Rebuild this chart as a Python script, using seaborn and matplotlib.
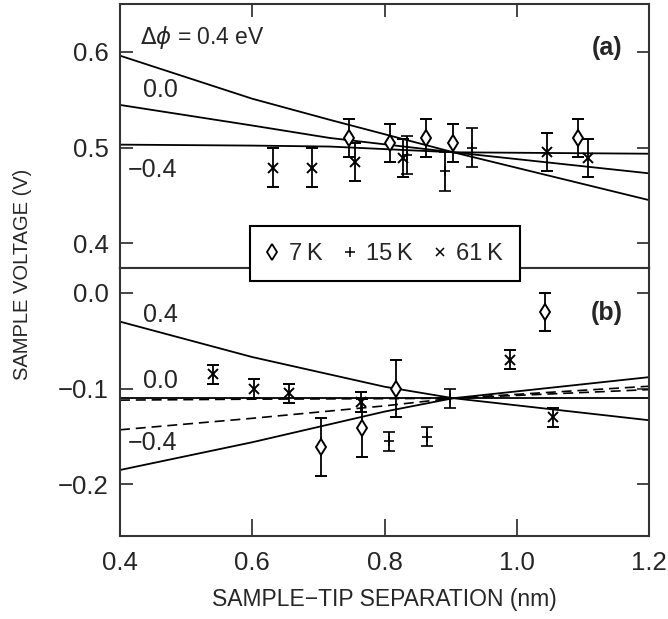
import matplotlib
matplotlib.use("Agg")
import matplotlib.pyplot as plt
from matplotlib.lines import Line2D
import seaborn as sns
import pandas as pd

# measured points, panel (a)
x_a_7k = [0.746, 0.808, 0.862, 0.904, 1.092]
y_a_7k = [0.510, 0.505, 0.510, 0.505, 0.510]
e_a_7k = [0.020, 0.020, 0.020, 0.020, 0.020]

x_a_15k = [0.834, 0.891, 0.932]
y_a_15k = [0.492, 0.475, 0.500]
e_a_15k = [0.020, 0.020, 0.020]

x_a_61k = [0.632, 0.691, 0.755, 0.828, 1.046, 1.108]
y_a_61k = [0.479, 0.479, 0.485, 0.489, 0.495, 0.489]
e_a_61k = [0.020, 0.020, 0.020, 0.020, 0.020, 0.020]

# measured points, panel (b)
x_b_7k = [0.704, 0.766, 0.817, 1.043]
y_b_7k = [-0.161, -0.141, -0.100, -0.020]
e_b_7k = [0.030, 0.030, 0.030, 0.020]

x_b_15k = [0.807, 0.864, 0.899]
y_b_15k = [-0.155, -0.150, -0.110]
e_b_15k = [0.010, 0.010, 0.010]

x_b_61k = [0.541, 0.602, 0.655, 0.764, 0.990, 1.055]
y_b_61k = [-0.085, -0.100, -0.105, -0.114, -0.070, -0.130]
e_b_61k = [0.010, 0.010, 0.010, 0.010, 0.010, 0.010]

# model curves (read at a few separations)
xa_curve = [0.4, 0.6, 0.717, 0.904, 1.2]
ya_p04 = [0.596, 0.551, 0.529, 0.495, 0.445]
ya_000 = [0.5445, 0.523, 0.510, 0.495, 0.473]
ya_m04 = [0.503, 0.502, 0.501, 0.495, 0.4935]

xb_curve = [0.4, 0.6, 0.8, 0.904, 1.2]
yb_p04 = [-0.030, -0.067, -0.098, -0.110, -0.133]
yb_000 = [-0.110, -0.110, -0.110, -0.110, -0.110]
yb_m04 = [-0.185, -0.156, -0.124, -0.110, -0.088]
yb_dash1 = [-0.112, -0.111, -0.1105, -0.110, -0.101]
yb_dash2 = [-0.143, -0.131, -0.118, -0.110, -0.0975]

xticks = [0.4, 0.6, 0.8, 1.0, 1.2]
xtick_labels = ["0.4", "0.6", "0.8", "1.0", "1.2"]
ya_ticks = [0.4, 0.5, 0.6]
ya_labels = ["0.4", "0.5", "0.6"]
yb_ticks = [0.0, -0.1, -0.2]
yb_labels = ["0.0", "\u22120.1", "\u22120.2"]
legend_labels = ["7\u2009K", "15\u2009K", "61\u2009K"]

sns.set_style("ticks")
plt.rcParams["font.family"] = ["Liberation Sans", "DejaVu Sans"]
plt.rcParams["mathtext.fontset"] = "dejavusans"

fig = plt.figure(figsize=(6.68, 6.19), dpi=100)
ax1 = fig.add_axes([0.1796, 0.567, 0.792, 0.4265])
ax2 = fig.add_axes([0.1796, 0.134, 0.792, 0.433])

curves_a = pd.DataFrame({"x": xa_curve * 3,
                         "y": ya_p04 + ya_000 + ya_m04,
                         "c": ["p04"] * 5 + ["000"] * 5 + ["m04"] * 5})
for name, grp in curves_a.groupby("c"):
    sns.lineplot(data=grp, x="x", y="y", ax=ax1, color="black", lw=1.3,
                 sort=True, estimator=None)

curves_b = pd.DataFrame({"x": xb_curve * 5,
                         "y": yb_p04 + yb_000 + yb_m04 + yb_dash1 + yb_dash2,
                         "c": ["p04"] * 5 + ["000"] * 5 + ["m04"] * 5
                         + ["d1"] * 5 + ["d2"] * 5})
for name, grp in curves_b.groupby("c"):
    if name.startswith("d"):
        sns.lineplot(data=grp, x="x", y="y", ax=ax2, color="black", lw=1.2,
                     dashes=False, sort=True, estimator=None)
        ax2.lines[-1].set_dashes((6, 3.5))
    else:
        sns.lineplot(data=grp, x="x", y="y", ax=ax2, color="black", lw=1.3,
                     sort=True, estimator=None)

eb = dict(ecolor="black", elinewidth=1.3, capsize=4.5, capthick=1.3,
          linestyle="none", zorder=5)
for ax, sets in [(ax1, [(x_a_7k, y_a_7k, e_a_7k), (x_a_15k, y_a_15k, e_a_15k),
                        (x_a_61k, y_a_61k, e_a_61k)]),
                 (ax2, [(x_b_7k, y_b_7k, e_b_7k), (x_b_15k, y_b_15k, e_b_15k),
                        (x_b_61k, y_b_61k, e_b_61k)])]:
    (x7, y7, e7), (x15, y15, e15), (x61, y61, e61) = sets
    ax.errorbar(x61, y61, yerr=e61, marker="x", ms=7, mew=1.4,
                color="black", **eb)
    ax.errorbar(x15, y15, yerr=e15, marker="+", ms=7, mew=1.2,
                color="black", **eb)
    ax.errorbar(x7, y7, yerr=e7, marker="d", ms=8.5, mew=1.4,
                mfc="white", mec="black", **eb)

ax1.set_xlim(0.4, 1.2)
ax1.set_ylim(0.374, 0.650)
ax2.set_xlim(0.4, 1.2)
ax2.set_ylim(-0.254, 0.026)

ax1.set_xticks([0.6, 0.8, 1.0])
ax1.tick_params(axis="x", top=True, bottom=False, labelbottom=False,
                direction="in", length=9, width=1.2)
ax1.set_yticks(ya_ticks)
ax1.set_yticklabels(ya_labels)
ax1.tick_params(axis="y", left=True, right=True, direction="in",
                length=9, width=1.2, labelsize=18.5, pad=8)

ax2.set_xticks(xticks)
ax2.set_xticklabels(xtick_labels)
ax2.tick_params(axis="x", bottom=True, top=False, direction="in",
                length=12, width=1.2, labelsize=18.5, pad=11)
ax2.set_yticks(yb_ticks)
ax2.set_yticklabels(yb_labels)
ax2.tick_params(axis="y", left=True, right=True, direction="in",
                length=9, width=1.2, labelsize=18.5, pad=8)

for ax in (ax1, ax2):
    ax.set_xlabel("")
    ax.set_ylabel("")
    for sp in ax.spines.values():
        sp.set_visible(True)
        sp.set_linewidth(1.5)
        sp.set_color("#333333")

ax1.text(0.430, 0.615, r"$\Delta\phi$ = 0.4 eV", fontsize=16.5, va="center")
ax1.text(0.435, 0.560, "0.0", fontsize=18, va="center")
ax1.text(0.412, 0.476, "\u22120.4", fontsize=18, va="center")
ax1.text(1.136, 0.604, "(a)", fontsize=18, va="center", ha="center",
         fontweight="bold")

ax2.text(0.435, -0.023, "0.4", fontsize=18, va="center")
ax2.text(0.435, -0.092, "0.0", fontsize=18, va="center")
ax2.text(0.412, -0.157, "\u22120.4", fontsize=18, va="center")
ax2.text(1.136, -0.021, "(b)", fontsize=18, va="center", ha="center",
         fontweight="bold")

fig.text(0.5756, 0.031, "SAMPLE\u2212TIP SEPARATION (nm)", fontsize=16.5,
         ha="center", va="center")
fig.text(0.033, 0.556, "SAMPLE VOLTAGE (V)", fontsize=14.5, rotation=90,
         ha="center", va="center")

handles = [Line2D([], [], marker="d", ms=8, mew=1.3, mfc="white",
                  mec="black", ls="none"),
           Line2D([], [], marker="+", ms=7, mew=1.1, color="black", ls="none"),
           Line2D([], [], marker="x", ms=6, mew=1.1, color="black", ls="none")]
leg = fig.legend(handles, legend_labels, loc="center",
                 bbox_to_anchor=(0.576, 0.590), ncol=3, frameon=True,
                 fancybox=False, edgecolor="black", framealpha=1,
                 handlelength=0.5, handletextpad=0.45, columnspacing=0.9,
                 fontsize=17, borderpad=0.7)
leg.get_frame().set_linewidth(1.5)

fig.savefig("out.png", dpi=100)
